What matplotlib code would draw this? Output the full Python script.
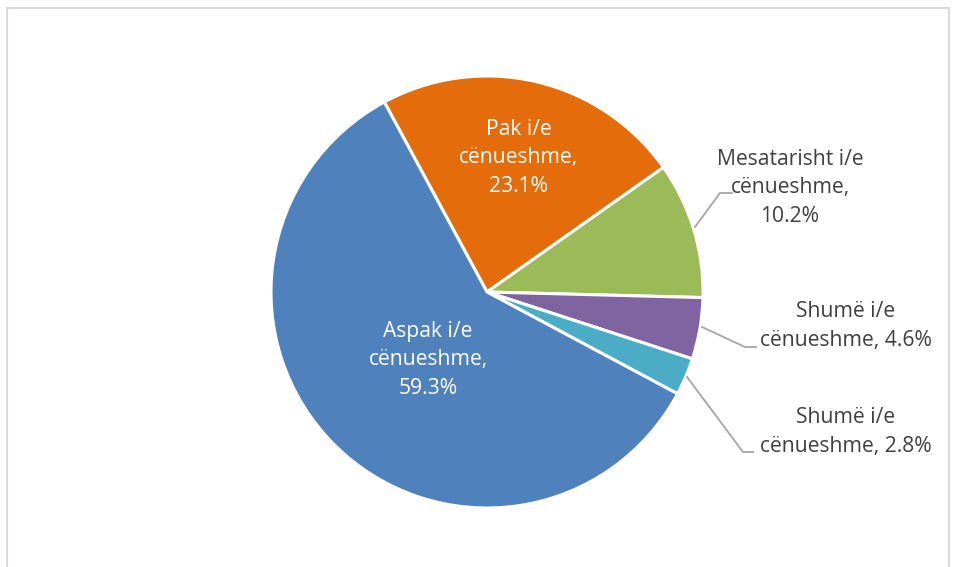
import matplotlib
matplotlib.use("Agg")
import matplotlib.pyplot as plt
from matplotlib.lines import Line2D

labels = ["Pak i/e\ncënueshme,\n23.1%",
          "Mesatarisht i/e\ncënueshme,\n10.2%",
          "Shumë i/e\ncënueshme, 4.6%",
          "Shumë i/e\ncënueshme, 2.8%",
          "Aspak i/e\ncënueshme,\n59.3%"]
values = [23.1, 10.2, 4.6, 2.8, 59.3]
colors = ["#E46C0A", "#9BBB59", "#8064A2", "#4BACC6", "#4F81BD"]

W, H = 957, 567
fig = plt.figure(figsize=(W / 100, H / 100), dpi=100)
plt.rcParams['font.family'] = ['Open Sans', 'DejaVu Sans']

# pie centre / radius in pixels
cx, cy, r = 487, 292, 216
ax = fig.add_axes([(cx - r) / W, (H - cy - r) / H, 2 * r / W, 2 * r / H])
ax.pie(values, colors=colors, startangle=118.4, counterclock=False, radius=1,
       wedgeprops=dict(edgecolor="white", linewidth=2.2))
ax.set_xlim(-1, 1)
ax.set_ylim(-1, 1)
ax.axis("off")

def px(x, y):
    return x / W, 1 - y / H

# chart border
bx = [7, 7, 949, 949]
by = [H + 5, 8, 8, H + 5]
fig.add_artist(Line2D([b / W for b in bx], [1 - b / H for b in by],
                      color="#D9D9D9", lw=1.5, transform=fig.transFigure))

# label positions (pixel centres) and leader lines
text_pos = [(519, 158), (790, 188), (846, 326), (846, 432), (428, 360)]
text_col = ["white", "#404040", "#404040", "#404040", "white"]
leaders = {1: [(695, 227), (720, 193), (732, 193)],
           2: [(702, 327), (745, 347), (756, 347)],
           3: [(687, 377), (743, 452), (753, 452)]}

for i, lab in enumerate(labels):
    x, y = px(*text_pos[i])
    fig.text(x, y, lab, ha="center", va="center", fontsize=15.2,
             color=text_col[i], linespacing=1.45)
    if i in leaders:
        pts = leaders[i]
        fig.add_artist(Line2D([p[0] / W for p in pts], [1 - p[1] / H for p in pts],
                              color="#A6A6A6", lw=1.3, transform=fig.transFigure))

fig.savefig("out.png", dpi=100)
